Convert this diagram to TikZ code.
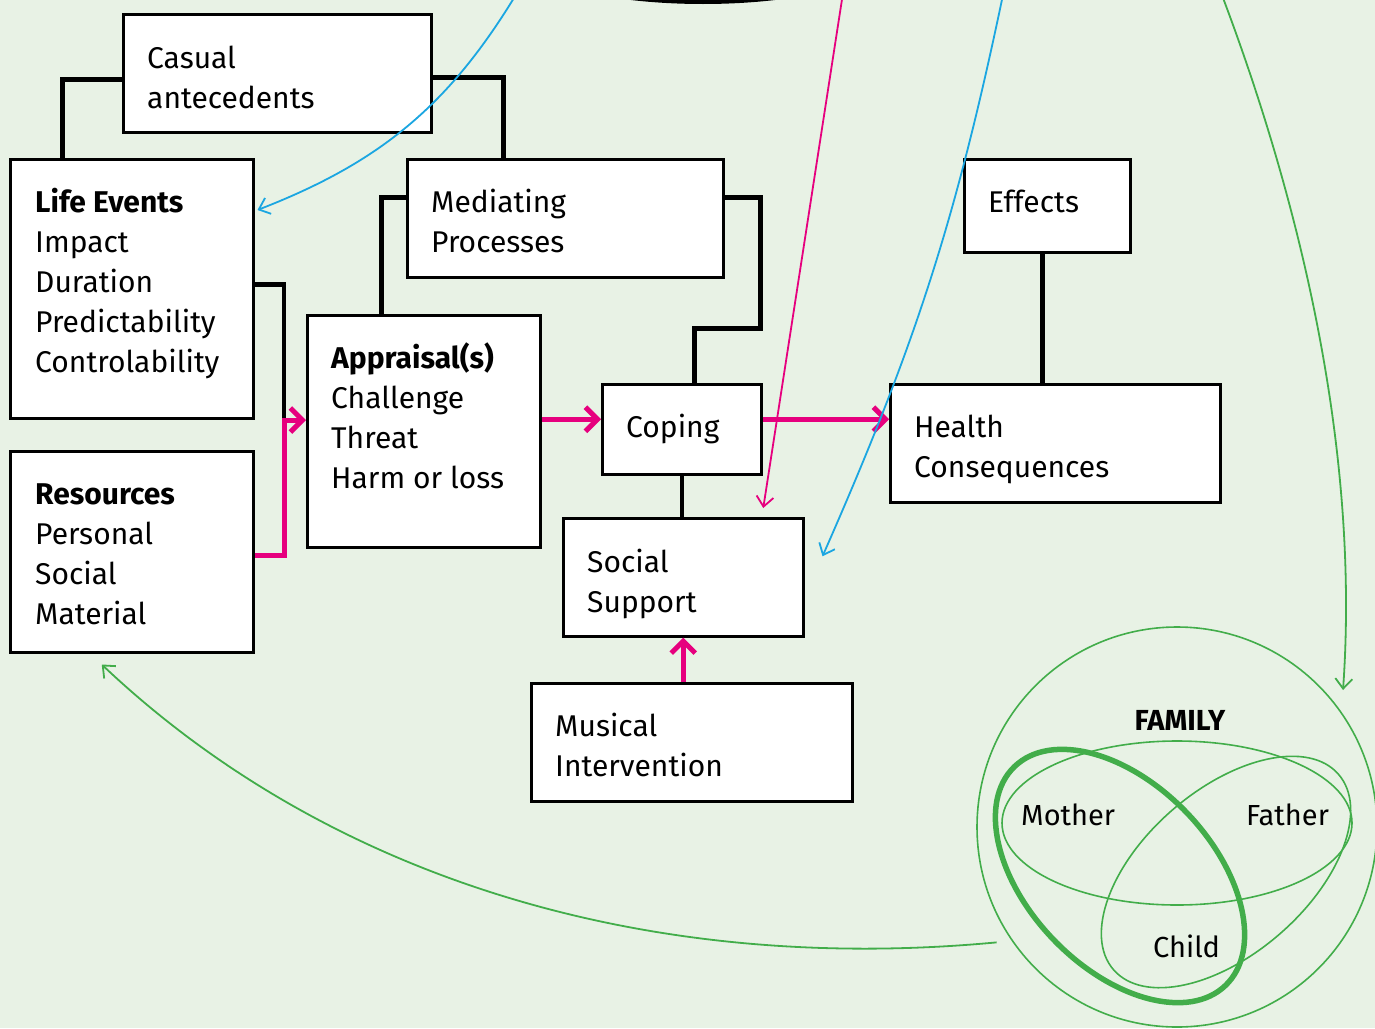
\documentclass[tikz,border=0pt]{standalone}
\usepackage{fontspec}
\setmainfont{Fira Sans}
\usetikzlibrary{arrows.meta}

\definecolor{bgcol}{HTML}{E8F2E5}
\definecolor{pinkline}{HTML}{E6007E}
\definecolor{skyline}{HTML}{1BA6E1}
\definecolor{famgreen}{HTML}{42AD4A}

\begin{document}
\begin{tikzpicture}[x=1pt,y=-1pt,
    box/.style={draw, line width=2.5pt, fill=white, anchor=north west, inner sep=0pt},
    lbl/.style={anchor=base west, align=left, inner sep=0pt, font=\fontsize{30}{40}\selectfont},
    link/.style={line width=4.5pt},
    push/.style={draw=pinkline, line width=5pt, -{Straight Barb[length=12pt, width=24pt]}},
    hint/.style={line width=1.8pt, -{Straight Barb[length=10pt, width=17pt]}},
    venn/.style={draw=famgreen, line width=1.6pt}]
    \useasboundingbox (0,0) rectangle (1375,1028);
    \clip (0,0) rectangle (1375,1028);
    \fill[bgcol] (0,0) rectangle (1375,1028);

    % boxes
    \node[box, minimum width=308, minimum height=118] (casual) at (122,13) {};
    \node[box, minimum width=243, minimum height=259] (life) at (9,158) {};
    \node[box, minimum width=243, minimum height=201] (res) at (9,450) {};
    \node[box, minimum width=316, minimum height=118] (medi) at (406,158) {};
    \node[box, minimum width=233, minimum height=232] (appr) at (306,314) {};
    \node[box, minimum width=159, minimum height=90] (coping) at (601,383) {};
    \node[box, minimum width=166, minimum height=93] (effects) at (963,158) {};
    \node[box, minimum width=330, minimum height=118] (health) at (889,383) {};
    \node[box, minimum width=240, minimum height=118] (social) at (562,517) {};
    \node[box, minimum width=321, minimum height=118] (musical) at (530,682) {};

    % texts, placed at the baseline of their last line
    \node[lbl] (casualtxt) at (147,108) {Casual\\antecedents};
    \node[lbl] (lifetxt) at (35,372) {\textbf{Life Events}\\Impact\\Duration\\Predictability\\Controlability};
    \node[lbl] (restxt) at (35,624) {\textbf{Resources}\\Personal\\Social\\Material};
    \node[lbl] (meditxt) at (431,252) {Mediating\\Processes};
    \node[lbl] (apprtxt) at (331,488) {\textbf{Appraisal(s)}\\Challenge\\Threat\\Harm or loss};
    \node[lbl] (copingtxt) at (626,437) {Coping};
    \node[lbl] (effectstxt) at (988,212) {Effects};
    \node[lbl] (healthtxt) at (914,477) {Health\\Consequences};
    \node[lbl] (socialtxt) at (587,612) {Social\\Support};
    \node[lbl] (musicaltxt) at (555,776) {Musical\\Intervention};

    % black links
    \coordinate (join) at (284,420);
    \draw[link] ([yshift=-6]casual.west) -| ([xshift=-69.5]life.north);
    \draw[link] ([yshift=-4]casual.east) -| ([xshift=-62]medi.north);
    \draw[link] ([yshift=21]medi.west) -| ([xshift=-42.5]appr.north);
    \draw[link] ([yshift=21]medi.east) -| ++(36,131) -| ([xshift=12.5]coping.north);
    \draw[link] ([yshift=4.5]life.east) -| (join);
    \draw[link] (coping.south) -- (coping.south |- social.north);
    \draw[link] ([xshift=-5]effects.south) -- ([xshift=-5]effects.south |- health.north);

    % pink arrows
    \draw[push] ([yshift=-4]res.east) -| (join) -- (join -| appr.west);
    \draw[push] ([yshift=12]appr.east) -- ([yshift=12]appr.east -| coping.west);
    \draw[push] ([yshift=10]coping.east) -- ([yshift=10]coping.east -| health.west);
    \draw[push] (musical.north -| social.south) -- (social.south);

    % family
    \node[circle, draw=famgreen, line width=1.6pt, minimum size=400, inner sep=0pt] (family) at (1177,827) {};
    \draw[venn] (1177,823) ellipse [x radius=175, y radius=82];
    \draw[venn, rotate around={41:(1226,872)}] (1226,872) ellipse [x radius=149, y radius=82];
    \draw[venn, line width=5.5pt, rotate around={-46:(1120,876)}] (1120,876) ellipse [x radius=152, y radius=92];
    \node[anchor=base, inner sep=0pt, font=\fontsize{29}{35}\selectfont\bfseries] (famtxt) at (1180,730) {FAMILY};
    \node[lbl, font=\fontsize{29}{35}\selectfont] (mother) at (1021,825) {Mother};
    \node[lbl, font=\fontsize{29}{35}\selectfont] (father) at (1246,825) {Father};
    \node[lbl, font=\fontsize{29}{35}\selectfont] (child) at (1153,957) {Child};

    % lines coming in from above
    \draw[line width=4pt] (703,-58) ellipse [x radius=200, y radius=60];
    \coordinate (pinktop) at (845,-20);
    \coordinate (bluetop) at (1004,-10);
    \coordinate (bluetopl) at (520,-12);
    \coordinate (greentop) at (1220,-10);
    \draw[hint, pinkline] (pinktop) -- ([xshift=80, yshift=9]social.north);
    \draw[hint, skyline] (bluetop) to[bend left=6] ([xshift=18, yshift=21]social.east);
    \draw[hint, skyline] (bluetopl) to[bend left=19] ([xshift=3, yshift=-52]life.north east);
    \draw[hint, famgreen] (greentop) .. controls (1300,200) and (1360,450) .. ([xshift=166, yshift=137]family.center);
    \draw[hint, famgreen] ([xshift=-12, yshift=-6]family.213) .. controls (650,975) and (330,880) .. ([xshift=-30, yshift=-11]res.south);
\end{tikzpicture}
\end{document}
